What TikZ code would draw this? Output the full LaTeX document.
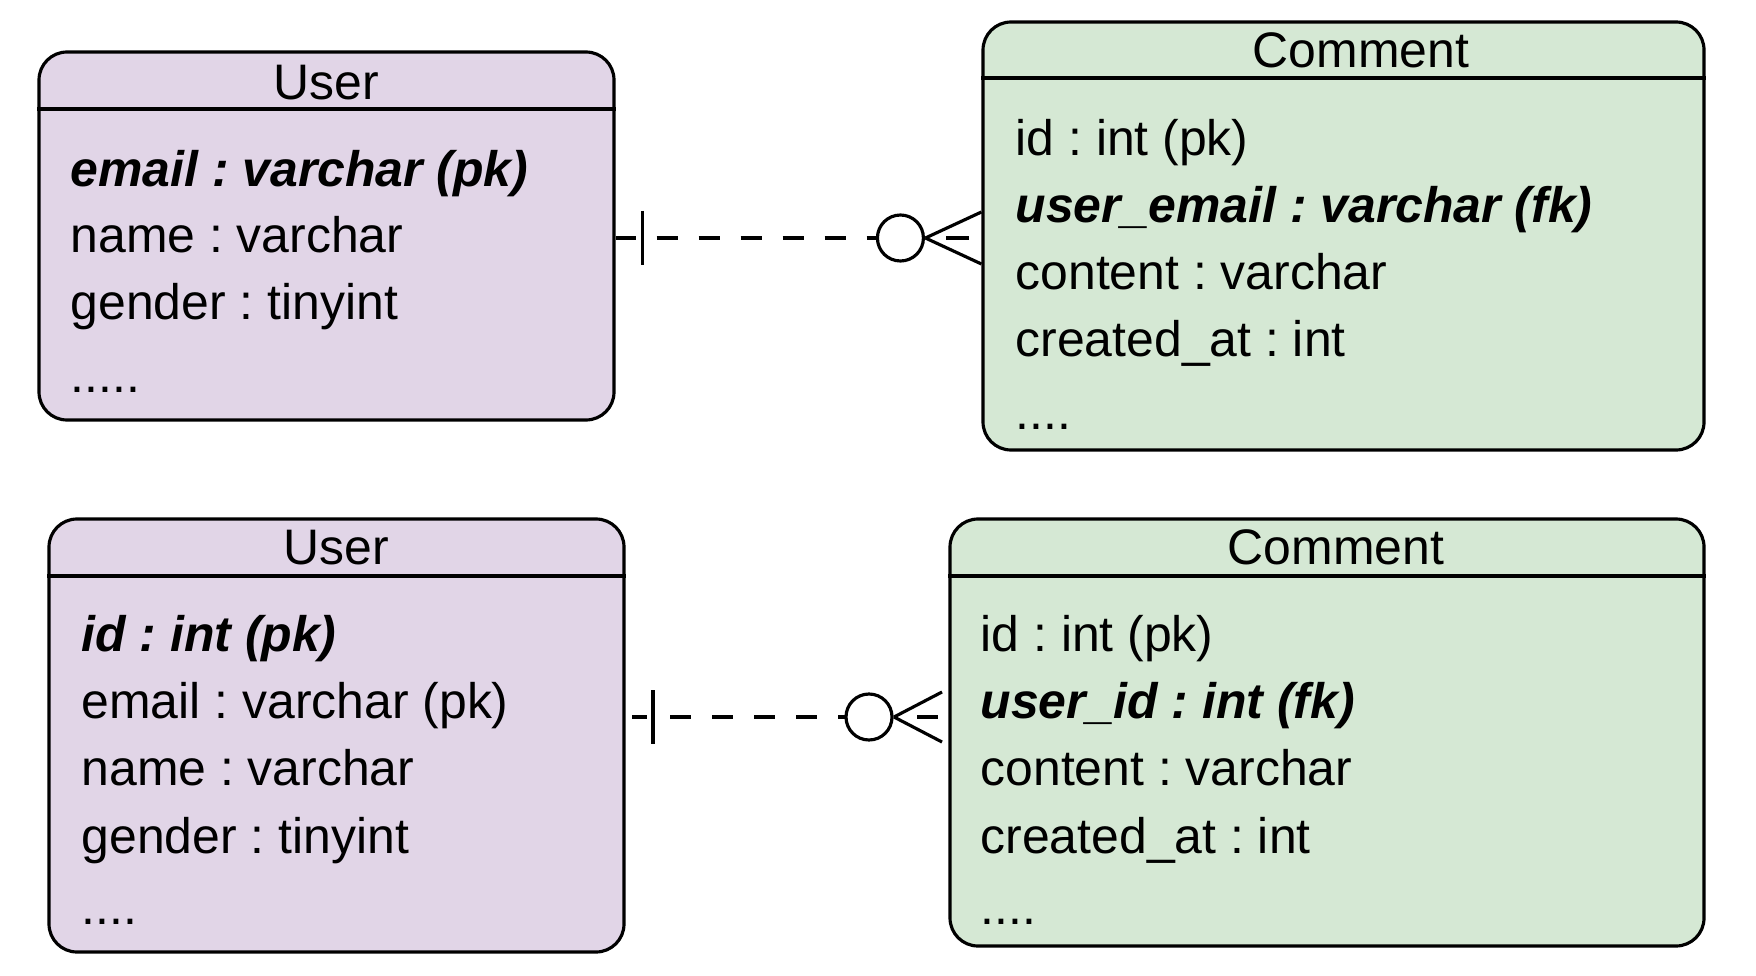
\documentclass[tikz,border=0pt]{standalone}
\usepackage{fontspec}
\setmainfont{Liberation Sans}
\frenchspacing
\definecolor{userPurple}{HTML}{E1D5E7}
\definecolor{commentGreen}{HTML}{D5E8D4}

\begin{document}
\begin{tikzpicture}[line width=0.9pt,
    table/.style={draw, rounded corners=0.28cm, inner sep=0pt},
    title/.style={font=\fontsize{14.2}{17}\selectfont, text height=0.72em, text depth=0.21em, inner sep=0pt, yshift=-0.09cm},
    row/.style={title, anchor=west},
    keyrow/.style={row, font=\fontsize{14.2}{17}\selectfont\bfseries\itshape},
    rel/.style={dash pattern=on 0.21cm off 0.21cm}]
    \useasboundingbox (0,0) rectangle (17.56,9.75);

    % first schema
    \node[table, fill=userPurple, minimum width=5.75cm, minimum height=3.68cm] (user1) at (3.265,7.39) {};
    \node[title] (user1-title) at (3.265,8.93) {User};
    \draw (user1.west |- 0,8.66) -- (user1.east |- 0,8.66);
    \node[keyrow] (user1-email) at (0.69,8.06) {email : varchar (pk)};
    \node[row] (user1-name) at (0.69,7.40) {name : varchar};
    \node[row] (user1-gender) at (0.69,6.73) {gender : tinyint};
    \node[row] (user1-more) at (0.69,6.00) {.....};

    \node[table, fill=commentGreen, minimum width=7.21cm, minimum height=4.28cm] (comment1) at (13.435,7.39) {};
    \node[title] (comment1-title) at (13.61,9.25) {Comment};
    \draw (comment1.west |- 0,8.97) -- (comment1.east |- 0,8.97);
    \node[row] (comment1-id) at (10.14,8.37) {id : int (pk)};
    \node[keyrow] (comment1-fk) at (10.14,7.70) {user\_email : varchar (fk)};
    \node[row] (comment1-content) at (10.14,7.03) {content : varchar};
    \node[row] (comment1-created) at (10.14,6.36) {created\_at : int};
    \node[row] (comment1-more) at (10.14,5.63) {....};

    % second schema
    \node[table, fill=userPurple, minimum width=5.75cm, minimum height=4.33cm] (user2) at (3.365,2.395) {};
    \node[title] (user2-title) at (3.365,4.28) {User};
    \draw (user2.west |- 0,3.99) -- (user2.east |- 0,3.99);
    \node[keyrow] (user2-id) at (0.80,3.41) {id : int (pk)};
    \node[row] (user2-email) at (0.80,2.74) {email : varchar (pk)};
    \node[row] (user2-name) at (0.80,2.07) {name : varchar};
    \node[row] (user2-gender) at (0.80,1.39) {gender : tinyint};
    \node[row] (user2-more) at (0.80,0.68) {....};

    \node[table, fill=commentGreen, minimum width=7.54cm, minimum height=4.27cm] (comment2) at (13.27,2.425) {};
    \node[title] (comment2-title) at (13.36,4.28) {Comment};
    \draw (comment2.west |- 0,3.99) -- (comment2.east |- 0,3.99);
    \node[row] (comment2-id) at (9.79,3.41) {id : int (pk)};
    \node[keyrow] (comment2-fk) at (9.79,2.74) {user\_id : int (fk)};
    \node[row] (comment2-content) at (9.79,2.07) {content : varchar};
    \node[row] (comment2-created) at (9.79,1.39) {created\_at : int};
    \node[row] (comment2-more) at (9.79,0.68) {....};

    % one to zero-or-many links
    \coordinate (link1-a) at (user1.east |- 0,7.37);
    \coordinate (link1-b) at (comment1.west |- 0,7.37);
    \draw (link1-a) -- ++(0.2,0);
    \draw ([xshift=0.27cm]link1-a) ++(0,0.27) -- ++(0,-0.54);
    \draw[rel] ([xshift=0.41cm]link1-a) -- ([xshift=-1.04cm]link1-b);
    \draw ([xshift=-0.81cm]link1-b) circle (0.23);
    \draw ([xshift=-0.56cm]link1-b) -- ([yshift=0.26cm]link1-b);
    \draw ([xshift=-0.56cm]link1-b) -- ([yshift=-0.26cm]link1-b);
    \draw ([xshift=-0.35cm]link1-b) -- ([xshift=-0.12cm]link1-b);

    \coordinate (link2-a) at (6.32,2.58);
    \coordinate (link2-b) at (9.42,2.58);
    \draw (link2-a) -- ++(0.15,0);
    \draw ([xshift=0.21cm]link2-a) ++(0,0.27) -- ++(0,-0.54);
    \draw[rel] ([xshift=0.38cm]link2-a) -- ([xshift=-0.96cm]link2-b);
    \draw ([xshift=-0.73cm]link2-b) circle (0.23);
    \draw ([xshift=-0.48cm]link2-b) -- ([yshift=0.25cm]link2-b);
    \draw ([xshift=-0.48cm]link2-b) -- ([yshift=-0.25cm]link2-b);
    \draw ([xshift=-0.25cm]link2-b) -- ([xshift=-0.04cm]link2-b);
\end{tikzpicture}
\end{document}
